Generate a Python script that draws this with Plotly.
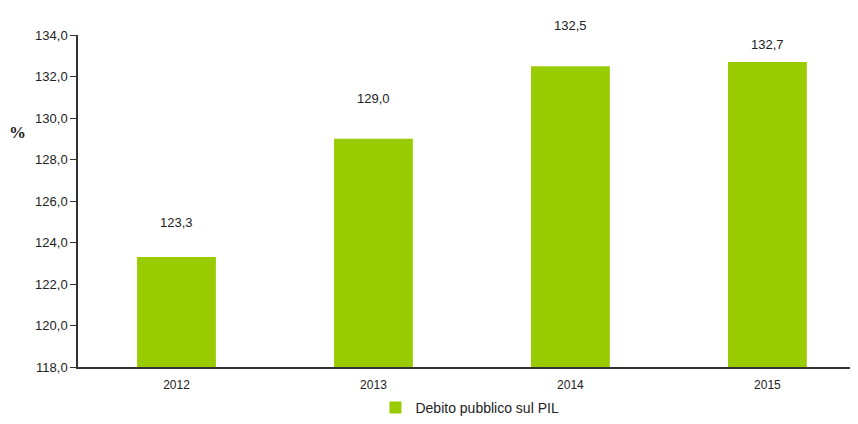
import plotly.graph_objects as go

categories = ["2012", "2013", "2014", "2015"]
values = [123.3, 129.0, 132.5, 132.7]
value_labels = ["123,3", "129,0", "132,5", "132,7"]
y_ticks = [118, 120, 122, 124, 126, 128, 130, 132, 134]
y_tick_labels = ["118,0", "120,0", "122,0", "124,0", "126,0", "128,0", "130,0", "132,0", "134,0"]
series_name = "Debito pubblico sul PIL"

# vertical pixel offset of each value label above its bar (layout only)
label_shift_px = [35, 40, 41, 17]

font = "Liberation Sans, Arial, sans-serif"

fig = go.Figure()
fig.add_trace(go.Bar(
    x=list(range(len(categories))), y=values, name=series_name,
    marker=dict(color="#99CC00", line=dict(width=0)),
    width=0.4,
))

for i, (v, t) in enumerate(zip(values, value_labels)):
    fig.add_annotation(x=i, y=v, text=t, showarrow=False, yanchor="middle",
                       yshift=label_shift_px[i], font=dict(family=font, size=13, color="#222"))

fig.add_annotation(xref="paper", yref="paper", x=-0.077, y=0.705, text="<b>%</b>",
                   showarrow=False, xanchor="center", yanchor="middle",
                   font=dict(family="Liberation Serif, Times New Roman, serif", size=17, color="#222"))

fig.update_layout(
    width=850, height=416,
    margin=dict(l=70, r=0, t=27, b=57, autoexpand=False),
    plot_bgcolor="white", paper_bgcolor="white",
    font=dict(family=font, size=12, color="#222"),
    showlegend=True,
    legend=dict(orientation="h", x=0.5435, xanchor="center", xref="container",
                y=0.0, yanchor="bottom", yref="container",
                font=dict(family=font, size=14, color="#222"),
                itemwidth=30, traceorder="normal"),
    xaxis=dict(tickmode="array", tickvals=list(range(len(categories))), ticktext=categories,
               range=[-0.5, 3.46], showline=True, linecolor="#333", linewidth=1.5,
               ticks="outside", ticklen=6, tickcolor="rgba(0,0,0,0)", showgrid=False, zeroline=False,
               automargin=False,
               tickfont=dict(family=font, size=12, color="#222")),
    yaxis=dict(range=[118, 134], tickmode="array", tickvals=y_ticks, ticktext=y_tick_labels,
               showline=True, linecolor="#333", linewidth=1.5, ticks="outside",
               ticklen=6, tickcolor="#333", showgrid=False, zeroline=False, automargin=False,
               tickfont=dict(family=font, size=13, color="#222")),
)

fig.write_html("out.html")
